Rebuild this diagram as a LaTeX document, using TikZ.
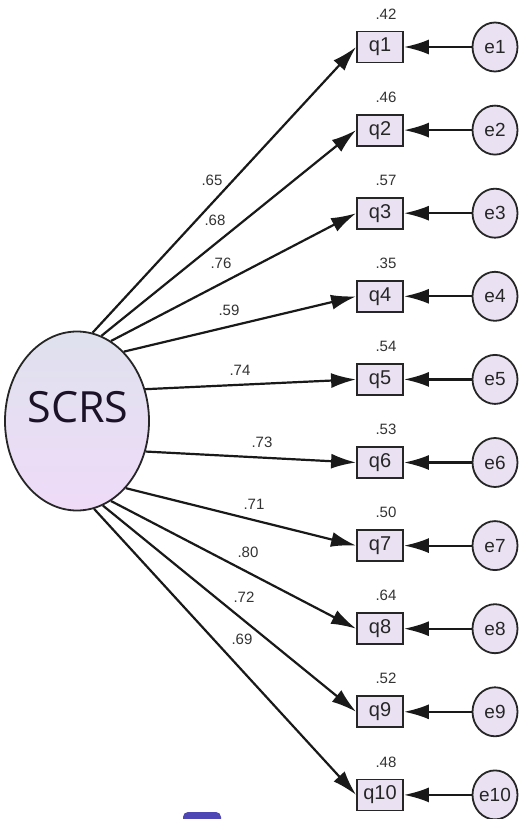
\documentclass[tikz,border=0pt]{standalone}
\usepackage{fontspec}
\setmainfont{Liberation Sans}
\newfontfamily\scrsfont{Open Sans}
\usetikzlibrary{arrows.meta,shapes.geometric}
\definecolor{boxfill}{HTML}{EAE2F3}
\definecolor{topfill}{HTML}{DFE1EE}
\definecolor{botfill}{HTML}{EFDBF8}
\definecolor{lblgray}{HTML}{333333}
\definecolor{blueshape}{HTML}{4F47B3}
\definecolor{scrstext}{HTML}{1C1228}
\begin{document}
\begin{tikzpicture}[x=1pt,y=-1pt,
  obs/.style={draw=black!85,line width=1.8pt,fill=boxfill,minimum width=46pt,minimum height=31pt,inner sep=0pt,font=\fontsize{20}{20}\selectfont,text=black!85},
  err/.style={ellipse,draw=black!85,line width=1.8pt,fill=boxfill,minimum width=45pt,minimum height=49pt,inner sep=0pt,font=\fontsize{19}{19}\selectfont,text=black!85},
  lat/.style={ellipse,draw=black!85,line width=1.8pt,top color=topfill,bottom color=botfill,minimum width=144pt,minimum height=179pt,inner sep=0pt},
  pth/.style={line width=2.2pt,draw=black!90,-{Latex[length=25pt,width=15pt]}},
  wt/.style={font=\fontsize{15}{15}\selectfont,text=lblgray,inner sep=0pt},
]
\useasboundingbox (0,0) rectangle (519,819);
\fill[white] (0,0) rectangle (519,819);
\fill[blueshape,rounded corners=5pt] (183,830) rectangle (221,812);

\node[lat] (scrs) at (77,421) {};
\node[font=\scrsfont\fontsize{43}{43}\selectfont,text=scrstext] (scrst) at (78,407) {SCRS};

\foreach \i/\wv/\rv/\ang/\wx/\wy in {
  1/.65/.42/80/212/180,
  2/.68/.46/74/215/220,
  3/.76/.57/67/221/263,
  4/.59/.35/56/229/310,
  5/.74/.54/25/240/370,
  6/.73/.53/-24/262/442,
  7/.71/.50/-54/254/504,
  8/.80/.64/-67/248/552,
  9/.72/.52/-73/244/597,
  10/.69/.48/-79/242/639}{
  \pgfmathsetmacro{\yy}{47+83.1*(\i-1)}
  \node[obs] (q\i) at (380,\yy) {q\i};
  \node[err] (e\i) at (495,\yy) {e\i};
  \node[wt] (r\i) at (386,\yy-33) {\rv};
  \node[wt] (w\i) at (\wx,\wy) {\wv};
  \draw[pth] (scrs.\ang) -- (q\i.west);
  \draw[pth] (e\i) -- (q\i);
}
\end{tikzpicture}
\end{document}
